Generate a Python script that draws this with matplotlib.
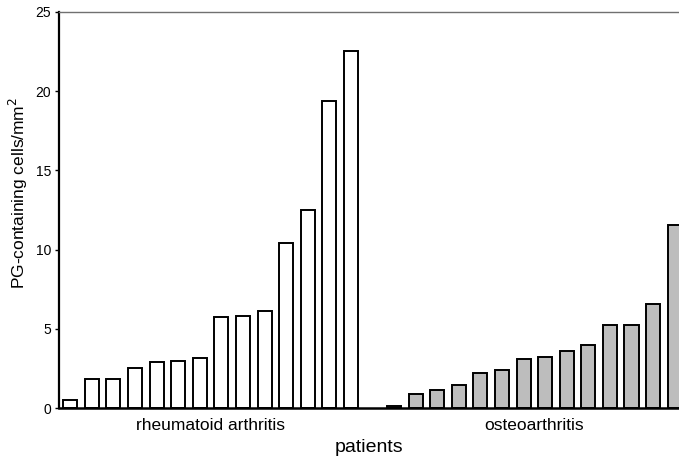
import numpy as np
import matplotlib
matplotlib.use("Agg")
import matplotlib.pyplot as plt

plt.rcParams['font.family'] = ['Liberation Sans', 'DejaVu Sans']

# PG-containing cells per mm2, sorted per group
ra_values = [0.5, 1.85, 1.85, 2.55, 2.9, 3.0, 3.15, 5.75, 5.8, 6.15, 10.4, 12.5, 19.4, 22.5]
oa_values = [0.13, 0.9, 1.13, 1.5, 2.2, 2.4, 3.12, 3.25, 3.6, 3.98, 5.25, 5.25, 6.6, 11.55]
groups = ['rheumatoid arthritis', 'osteoarthritis']
yticks = [0, 5, 10, 15, 20, 25]

fig = plt.figure(figsize=(6.79, 4.58), dpi=100)
ax = fig.add_axes([0.0876, 0.1085, 0.9124, 0.866])

ra_x = np.arange(len(ra_values))
oa_x = np.arange(len(oa_values)) + len(ra_values) + 1

ax.bar(ra_x, ra_values, width=0.65, color='white', edgecolor='black', linewidth=1.4)
ax.bar(oa_x, oa_values, width=0.65, color='#bdbdbd', edgecolor='black', linewidth=1.4)

ax.set_xlim(-0.5, 28.2)
ax.set_ylim(0, 25)
ax.set_yticks(yticks)
ax.set_xticks([ra_x.mean(), oa_x.mean()])
ax.set_xticklabels(groups, fontsize=12.5)
ax.tick_params(axis='x', length=0, pad=7)
ax.tick_params(axis='y', length=3, width=1, labelsize=10, pad=3)

ax.spines['right'].set_visible(False)
ax.spines['left'].set_linewidth(1.6)
ax.spines['bottom'].set_linewidth(1.8)
ax.spines['top'].set_linewidth(1.0)
ax.spines['top'].set_color('#707070')

ax.set_ylabel('PG-containing cells/mm$^2$', fontsize=12.5)
ax.yaxis.set_label_coords(-0.047, 0.543)
ax.set_xlabel('patients', fontsize=14, labelpad=4)

fig.savefig('out.png', dpi=100)
